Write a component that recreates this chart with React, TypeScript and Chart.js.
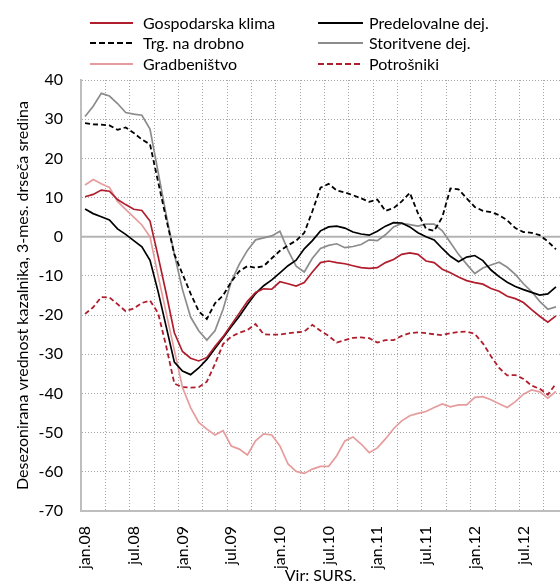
import React, { useEffect, useRef } from 'react';
import { Chart, registerables } from 'chart.js';

Chart.register(...registerables);

const MONTHS = ['jan', 'feb', 'mar', 'apr', 'maj', 'jun', 'jul', 'avg', 'sep', 'okt', 'nov', 'dec'];
const YEARS = ['08', '09', '10', '11', '12'];
const CATEGORIES = YEARS.flatMap((y) => MONTHS.map((m) => `${m}.${y}`)).slice(0, 59);

const GOSPODARSKA = [
  10.2, 10.8, 11.9, 11.6, 9.5, 8.2, 7.0, 6.7, 4.0, -5.0,
  -14.5, -24.5, -29.3, -31.0, -31.7, -30.8, -28.0, -25.5, -22.5, -19.5,
  -16.5, -14.2, -13.3, -13.4, -11.5, -12.0, -12.6, -11.7, -9.0, -6.6,
  -6.2, -6.6, -6.9, -7.4, -7.9, -8.1, -7.9, -6.6, -5.8, -4.5,
  -4.1, -4.5, -6.2, -6.6, -8.3, -9.2, -10.3, -11.2, -11.7, -12.1,
  -13.2, -13.9, -15.2, -15.8, -16.8, -18.6, -20.3, -21.8, -20.2,
];
const PREDELOVALNE = [
  7.1, 5.9, 5.1, 4.3, 2.0, 0.6, -1.0, -2.6, -6.0, -14.0,
  -23.0, -32.0, -34.3, -35.2, -33.5, -31.3, -28.5, -25.8, -23.0, -20.3,
  -17.3, -14.5, -12.5, -11.0, -9.2, -7.4, -6.0, -3.1, -1.0, 1.5,
  2.5, 2.7, 2.2, 1.2, 0.7, 0.4, 1.4, 2.7, 3.6, 3.5,
  2.5, 1.0, 0.0, -0.8, -3.0, -5.0, -6.4, -5.2, -4.8, -6.1,
  -8.5, -10.2, -11.6, -12.7, -13.5, -14.2, -14.9, -14.6, -12.8,
];
const TRG_NA_DROBNO = [
  29.0, 28.7, 28.6, 28.4, 27.3, 27.9, 26.5, 24.8, 23.6, 14.0,
  4.5, -4.5, -9.5, -14.5, -19.0, -21.0, -17.0, -15.0, -11.5, -8.8,
  -7.5, -7.9, -7.5, -5.5, -3.6, -2.2, -1.0, 1.0, 6.5, 12.5,
  13.5, 11.8, 11.3, 10.6, 9.8, 8.9, 9.5, 6.6, 7.3, 9.0,
  11.2, 6.0, 2.0, 1.5, 5.0, 12.3, 12.1, 9.8, 7.6, 6.6,
  6.3, 5.5, 4.2, 2.2, 1.2, 1.0, 0.4, -1.2, -3.2,
];
const STORITVENE = [
  30.7, 33.3, 36.6, 35.9, 34.0, 31.7, 31.3, 31.0, 27.5, 16.5,
  5.5, -4.5, -13.5, -20.5, -24.0, -26.4, -24.0, -18.5, -11.5, -7.0,
  -3.5, -0.8, -0.3, 0.2, 1.4, -3.5, -7.5, -9.0, -5.5, -3.0,
  -2.2, -1.8, -2.8, -2.5, -2.0, -0.8, -1.0, 0.5, 2.5, 3.4,
  3.1, 2.7, 3.2, 3.2, 1.5, -1.5, -4.5, -7.0, -9.4, -8.0,
  -7.2, -6.5, -7.8, -9.6, -12.0, -14.0, -16.5, -18.5, -17.9,
];
const GRADBENISTVO = [
  13.2, 14.6, 13.5, 12.6, 9.0, 7.0, 5.0, 3.0, 0.0, -10.0,
  -19.5, -29.0, -38.5, -43.6, -47.4, -49.1, -50.6, -49.5, -53.4, -54.2,
  -55.7, -52.1, -50.3, -50.6, -53.4, -58.0, -59.9, -60.4, -59.3, -58.6,
  -58.6, -55.9, -52.1, -51.1, -52.9, -55.1, -53.9, -51.6, -49.0, -47.0,
  -45.7, -45.1, -44.6, -43.6, -42.7, -43.4, -42.9, -42.9, -41.0, -40.8,
  -41.6, -42.6, -43.6, -42.1, -40.2, -39.1, -39.6, -41.2, -39.5,
];
const POTROSNIKI = [
  -19.7, -18.0, -15.4, -15.5, -17.2, -19.0, -18.3, -16.9, -16.3, -19.5,
  -28.0, -37.5, -38.4, -38.5, -38.4, -37.0, -32.5, -27.4, -25.5, -24.5,
  -23.8, -22.3, -24.9, -25.0, -25.0, -24.6, -24.4, -24.2, -22.5, -24.0,
  -25.3, -27.0, -26.4, -25.8, -25.7, -25.9, -27.0, -26.4, -26.4, -25.3,
  -24.6, -24.4, -24.6, -24.9, -25.1, -24.6, -24.3, -24.2, -24.8, -27.2,
  -30.5, -33.5, -35.4, -35.3, -36.3, -38.0, -38.8, -40.3, -37.5,
];

const Y_TITLE = 'Desezonirana vrednost kazalnika, 3-mes. drseča sredina';
const X_TITLE = 'Vir: SURS.';

const FONT = 'Lato, "Noto Sans", sans-serif';
const RED = '#B01E2D';
const BLACK = '#000000';
const GREY = '#8C8C8C';
const PINK = '#E69C9C';
const GRID = '#A6A6A6';
const AXIS = '#BEBEBE';

const SERIES = [
  { label: 'Gospodarska klima', data: GOSPODARSKA, color: RED, dashed: false },
  { label: 'Predelovalne dej.', data: PREDELOVALNE, color: BLACK, dashed: false },
  { label: 'Trg. na drobno', data: TRG_NA_DROBNO, color: BLACK, dashed: true },
  { label: 'Storitvene dej.', data: STORITVENE, color: GREY, dashed: false },
  { label: 'Gradbeništvo', data: GRADBENISTVO, color: PINK, dashed: false },
  { label: 'Potrošniki', data: POTROSNIKI, color: RED, dashed: true },
];

const zeroLine = {
  id: 'zeroLine',
  beforeDatasetsDraw(chart: any) {
    const { ctx, chartArea, scales } = chart;
    const y = scales.y.getPixelForValue(0);
    ctx.save();
    ctx.strokeStyle = '#B4B4B4';
    ctx.lineWidth = 2;
    ctx.beginPath();
    ctx.moveTo(chartArea.left, y);
    ctx.lineTo(chartArea.right, y);
    ctx.stroke();
    ctx.restore();
  },
};

export default function App() {
  const ref = useRef<HTMLCanvasElement | null>(null);

  useEffect(() => {
    if (!ref.current) return;
    const font = { family: FONT, size: 16 };
    const chart = new Chart(ref.current, {
      type: 'line',
      data: {
        labels: CATEGORIES,
        datasets: SERIES.map((s) => ({
          label: s.label,
          data: s.data,
          borderColor: s.color,
          backgroundColor: s.color,
          borderWidth: s.dashed ? 1.8 : 1.7,
          borderDash: s.dashed ? [5, 3] : [],
          pointRadius: 0,
          tension: 0,
          fill: false,
        })),
      },
      options: {
        animation: false,
        responsive: false,
        layout: { padding: { left: 0, right: 0, top: 80, bottom: 0 } },
        plugins: { legend: { display: false }, tooltip: { enabled: false }, title: { display: false } },
        scales: {
          x: {
            type: 'category',
            offset: true,
            grid: {
              offset: true,
              drawTicks: false,
              lineWidth: 1,
              color: (c: any) =>
                typeof c.index === 'number' && c.index > 0 && c.index % 3 === 0 ? GRID : 'rgba(0,0,0,0)',
            },
            border: { display: true, color: AXIS, width: 2, dash: [1, 2] },
            ticks: {
              autoSkip: false,
              maxRotation: 90,
              minRotation: 90,
              padding: 15,
              color: '#000',
              font,
              callback: (_v: any, i: number) => (i % 6 === 0 ? CATEGORIES[i] : ''),
            },
            title: { display: true, text: X_TITLE, color: '#000', font, padding: { top: 0, bottom: 0 } },
            afterFit: (s: any) => {
              s.height = 74;
              s.paddingLeft = 0;
              s.paddingRight = 0;
            },
          },
          y: {
            min: -70,
            max: 40,
            ticks: { stepSize: 10, padding: 18, color: '#000', font },
            grid: {
              drawTicks: false,
              lineWidth: 1,
              color: (c: any) => (c.tick && c.tick.value === 0 ? 'rgba(0,0,0,0)' : GRID),
            },
            border: { display: true, color: AXIS, width: 2, dash: [1, 2] },
            title: { display: true, text: Y_TITLE, color: '#000', font, padding: { top: 13, bottom: 0 } },
            afterFit: (s: any) => {
              s.width = 81;
            },
          },
        },
      },
      plugins: [zeroLine],
    } as any);
    return () => chart.destroy();
  }, []);

  const legendCols = [
    { lineX: 90, lineLen: 43, textX: 143 },
    { lineX: 318, lineLen: 45, textX: 369 },
  ];
  const rowY = [22.5, 43, 63.5];

  return (
    <div style={{ position: 'absolute', left: 0, top: 0, width: 560, height: 585, background: '#fff' }}>
      <canvas ref={ref} width={560} height={585} style={{ display: 'block', width: 560, height: 585 }} />
      {SERIES.map((s, i) => {
        const col = legendCols[i % 2];
        const cy = rowY[Math.floor(i / 2)];
        return (
          <React.Fragment key={s.label}>
            <svg
              width={col.lineLen}
              height={6}
              style={{ position: 'absolute', left: col.lineX, top: cy - 3 }}
            >
              <line
                x1={0}
                y1={3}
                x2={col.lineLen}
                y2={3}
                stroke={s.color}
                strokeWidth={1.8}
                strokeDasharray={s.dashed ? '6 3' : undefined}
              />
            </svg>
            <div
              style={{
                position: 'absolute',
                left: col.textX,
                top: cy - 10,
                height: 20,
                lineHeight: '20px',
                fontFamily: FONT,
                fontSize: 16,
                color: '#000',
                whiteSpace: 'nowrap',
              }}
            >
              {s.label}
            </div>
          </React.Fragment>
        );
      })}
    </div>
  );
}
